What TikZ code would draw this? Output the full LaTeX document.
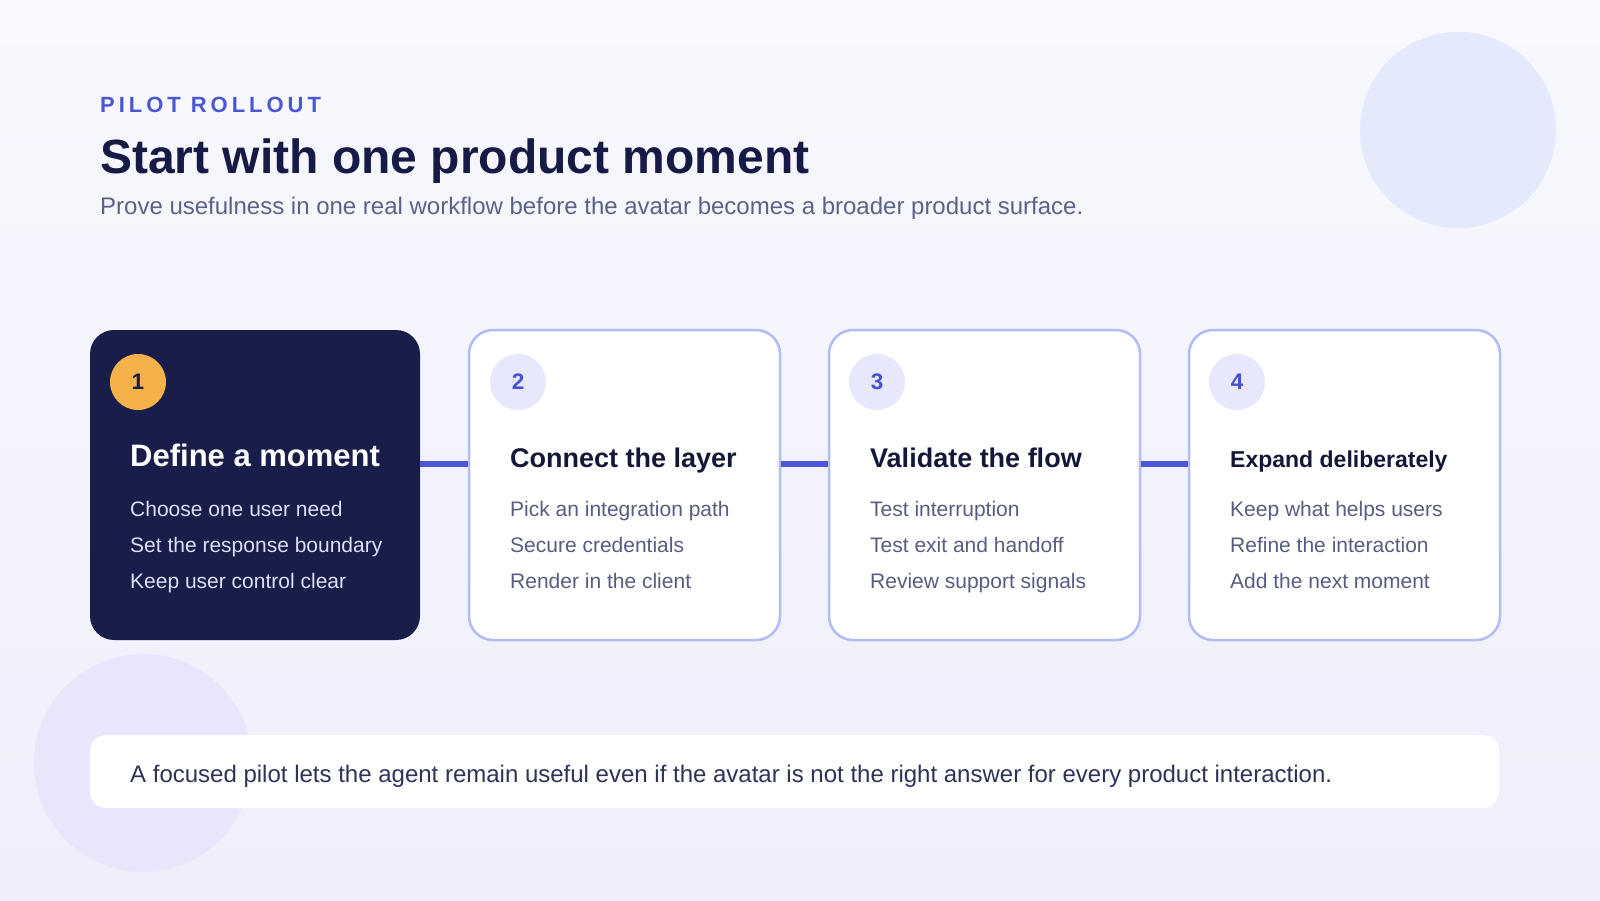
\documentclass[tikz,border=0pt]{standalone}
\usepackage{fontspec}
\setmainfont{Liberation Sans}
\newfontfamily\spacedfont[LetterSpace=18]{Liberation Sans}
\definecolor{bgtop}{HTML}{F8F8FE}
\definecolor{bgbot}{HTML}{EEEFFB}
\definecolor{circTR}{HTML}{E4E9FC}
\definecolor{circBL}{HTML}{E8E6FB}
\definecolor{navy}{HTML}{161A45}
\definecolor{kicker}{HTML}{4B56D2}
\definecolor{subgray}{HTML}{5C6285}
\definecolor{darkcard}{HTML}{191D4A}
\definecolor{cardborder}{HTML}{B3BCF5}
\definecolor{linkblue}{HTML}{4D57D9}
\definecolor{badgebg}{HTML}{E7E8FB}
\definecolor{badgenum}{HTML}{4650D0}
\definecolor{orange}{HTML}{F5B14A}
\definecolor{bodygray}{HTML}{585D80}
\definecolor{ctitle}{HTML}{141838}
\definecolor{lightbody}{HTML}{DCDFF8}
\definecolor{notetext}{HTML}{2E3358}
\tikzset{
  txt/.style={inner sep=0pt, anchor=base west},
  cardbox/.style={rounded corners=24pt, minimum width=311pt, minimum height=310pt,
    inner sep=0pt, draw=cardborder, line width=2.5pt, fill=white},
  darkbox/.style={rounded corners=24pt, minimum width=330pt, minimum height=310pt,
    inner sep=0pt, fill=darkcard},
  badge/.style={circle, minimum size=56pt, inner sep=0pt, fill=badgebg, text=badgenum,
    font=\bfseries\fontsize{22.5}{26}\selectfont},
  link/.style={draw=linkblue, line width=6pt},
  bodytxt/.style={txt, text=bodygray, font=\fontsize{21}{25}\selectfont},
  titletxt/.style={txt, text=ctitle, font=\bfseries\fontsize{27}{32}\selectfont},
}
\begin{document}
\begin{tikzpicture}[x=1pt,y=-1pt]
\useasboundingbox (0,0) rectangle (1600,900);
\shade[top color=bgtop, bottom color=bgbot] (0,0) rectangle (1600,900);
\fill[circTR] (1458,130) circle[radius=98pt];
\fill[circBL] (143,763) circle[radius=109pt];

% header
\node[txt, text=kicker, font=\spacedfont\bfseries\fontsize{22}{26}\selectfont] (kick) at (100,112) {PILOT ROLLOUT};
\node[txt, text=navy, font=\bfseries\fontsize{48}{56}\selectfont] (title) at (100,173) {Start with one product moment};
\node[txt, text=subgray, font=\fontsize{24}{28}\selectfont] (sub) at (100,214) {Prove usefulness in one real workflow before the avatar becomes a broader product surface.};

% cards
\node[darkbox] (c1) at (255,485) {};
\node[cardbox] (c2) at (624.5,485) {};
\node[cardbox] (c3) at (984.5,485) {};
\node[cardbox] (c4) at (1344.5,485) {};

% connectors
\draw[link] ([yshift=21pt]c1.east) -- ([yshift=21pt]c2.west);
\draw[link] ([yshift=21pt]c2.east) -- ([yshift=21pt]c3.west);
\draw[link] ([yshift=21pt]c3.east) -- ([yshift=21pt]c4.west);

% badges
\node[badge, fill=orange, text=darkcard] (b1) at (138,382) {1};
\node[badge] (b2) at (518,382) {2};
\node[badge] (b3) at (877,382) {3};
\node[badge] (b4) at (1237,382) {4};

% card 1
\node[txt, text=white, font=\bfseries\fontsize{31}{36}\selectfont] (t1) at (130,466) {Define a moment};
\node[bodytxt, text=lightbody] (l11) at (130,516) {Choose one user need};
\node[bodytxt, text=lightbody] (l12) at (130,552) {Set the response boundary};
\node[bodytxt, text=lightbody] (l13) at (130,588) {Keep user control clear};

% card 2
\node[titletxt] (t2) at (510,467) {Connect the layer};
\node[bodytxt] (l21) at (510,516) {Pick an integration path};
\node[bodytxt] (l22) at (510,552) {Secure credentials};
\node[bodytxt] (l23) at (510,588) {Render in the client};

% card 3
\node[titletxt] (t3) at (870,467) {Validate the flow};
\node[bodytxt] (l31) at (870,516) {Test interruption};
\node[bodytxt] (l32) at (870,552) {Test exit and handoff};
\node[bodytxt] (l33) at (870,588) {Review support signals};

% card 4
\node[titletxt, font=\bfseries\fontsize{23}{28}\selectfont] (t4) at (1230,467) {Expand deliberately};
\node[bodytxt] (l41) at (1230,516) {Keep what helps users};
\node[bodytxt] (l42) at (1230,552) {Refine the interaction};
\node[bodytxt] (l43) at (1230,588) {Add the next moment};

% bottom note
\node[fill=white, rounded corners=16pt, minimum width=1409pt, minimum height=73pt, inner sep=0pt] (note) at (794.5,771.5) {};
\node[txt, text=notetext, font=\fontsize{24}{28}\selectfont] (notetxt) at (130,782) {A focused pilot lets the agent remain useful even if the avatar is not the right answer for every product interaction.};
\end{tikzpicture}
\end{document}
